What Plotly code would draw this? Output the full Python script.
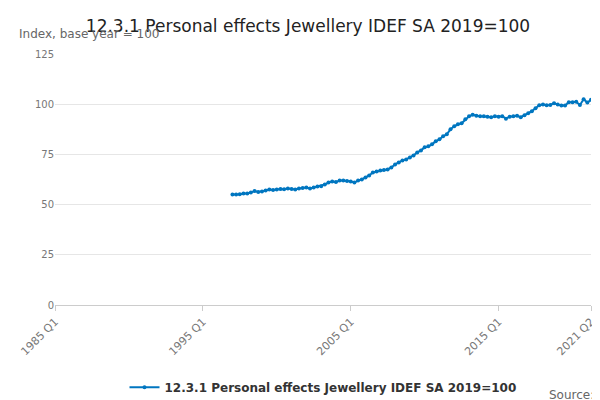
import plotly.graph_objects as go
import pandas as pd

values = [55,55,55.2,55.5, 55.5,56,56.8,56.3, 56.5,57,57.5,57.3, 57.5,57.8,57.6,58,
          57.8,57.5,58,58.3, 58.5,58,58.5,59, 59.2,60,61,61.5, 61.2,62,62,61.8,
          61.5,61,62,62.5, 63.5,64.5,66,66.5, 67,67.2,67.5,68.5, 70,71,72,72.5,
          73.5,74.5,76,77, 78.5,79,80,81.5, 82.5,84,85,87.5, 89,90,90.5,92.5,
          94,94.8,94.2,94, 94,93.8,93.5,94, 93.8,94,92.8,93.8, 94,94.2,93.5,94.5,
          95.5,96.5,98,99.5, 99.8,99.5,99.6,100.5, 99.8,99.3,99.4,101,
          101,101.2,99.6,102.5, 100.8,102.2]
dates = pd.date_range("1997-01-01", periods=len(values), freq="QS")
tick_vals = ["1985-01-01", "1995-01-01", "2005-01-01", "2015-01-01", "2021-04-01"]
tick_text = ["1985 Q1", "1995 Q1", "2005 Q1", "2015 Q1", "2021 Q2"]
name = "12.3.1 Personal effects Jewellery IDEF SA 2019=100"

fig = go.Figure(go.Scatter(x=dates, y=values, mode="lines+markers", name=name,
                           line=dict(color="#0076c0", width=2), marker=dict(size=4, color="#0076c0")))
fig.update_layout(
    width=600, height=400, plot_bgcolor="white", paper_bgcolor="white",
    font=dict(family="DejaVu Sans", color="#444"),
    title=dict(text=name, x=0.5, y=0.955, xanchor="center", yanchor="middle", font=dict(size=17, color="#222")),
    margin=dict(l=47, r=17, t=46, b=103, autoexpand=False),
    showlegend=True,
    legend=dict(orientation="h", x=0.5, xanchor="center", y=-0.27, font=dict(size=12, color="#333", weight="bold")),
    annotations=[
        dict(text="Index, base year = 100", xref="paper", yref="paper", x=-0.07, y=1.08,
             xanchor="left", yanchor="middle", showarrow=False, font=dict(size=12, color="#666")),
        dict(text="Source:", xref="paper", yref="paper", x=1.01, y=-0.36,
             xanchor="right", yanchor="middle", showarrow=False, font=dict(size=12, color="#666")),
    ],
)
fig.update_xaxes(type="date", range=["1985-01-01", "2021-04-01"], tickvals=tick_vals, ticktext=tick_text,
                 tickangle=-45, showgrid=False, showline=True, linecolor="#ccc", ticks="outside",
                 ticklen=5, tickcolor="#ccc", tickfont=dict(size=11, color="#777"), automargin=False)
fig.update_yaxes(range=[0, 125], tickvals=[0,25,50,75,100,125], gridcolor="#e6e6e6",
                 zeroline=False, tickfont=dict(size=10, color="#777"), automargin=False)
fig.write_html("out.html")
